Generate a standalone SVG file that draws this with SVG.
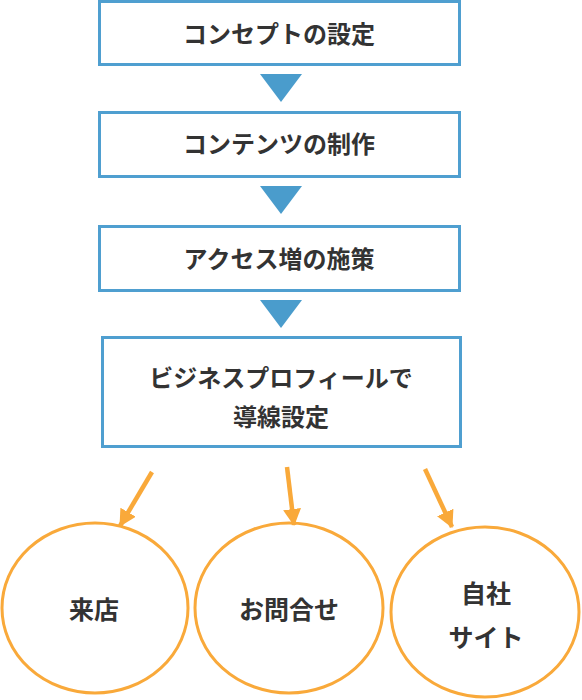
<svg xmlns="http://www.w3.org/2000/svg" width="582" height="700" viewBox="0 0 582 700">
<defs>
<style>
.box{fill:#fff;stroke:#4F9FD0;stroke-width:3}
.tri{fill:#4A9CCC}
.circ{fill:#fff;stroke:#F9A93A;stroke-width:3}
.t{font-family:"Noto Sans CJK JP","Noto Sans CJK SC",sans-serif;font-weight:bold;font-size:24px;fill:#333;text-anchor:middle}
.c{font-size:25px}
.arr{stroke:#F9A93A;stroke-width:4.5;fill:none}
</style>
<marker id="ah" markerUnits="userSpaceOnUse" markerWidth="20" markerHeight="20" refX="16" refY="9" orient="auto">
<path d="M0,0 L17,9 L0,18 Z" fill="#F9A93A"/>
</marker>
</defs>
<g id="n1"><rect class="box" x="99.5" y="1.5" width="360" height="63"/><text class="t" x="279" y="43">コンセプトの設定</text></g>
<g id="n2"><rect class="box" x="99.5" y="112.5" width="360" height="64"/><text class="t" x="279" y="153">コンテンツの制作</text></g>
<g id="n3"><rect class="box" x="99.5" y="226.5" width="360" height="64"/><text class="t" x="279" y="268">アクセス増の施策</text></g>
<g id="n4"><rect class="box" x="102.5" y="337.5" width="358" height="109"/><text class="t" x="281" y="387">ビジネスプロフィールで</text><text class="t" x="281" y="426">導線設定</text></g>
<g id="c1"><ellipse class="circ" cx="95" cy="608" rx="93" ry="85"/><text class="t c" x="94" y="619">来店</text></g>
<g id="c2"><ellipse class="circ" cx="289" cy="608" rx="94" ry="85"/><text class="t c" x="289" y="619">お問合せ</text></g>
<g id="c3"><ellipse class="circ" cx="485" cy="612" rx="94" ry="85"/><text class="t c" x="486" y="603">自社</text><text class="t c" x="486" y="647">サイト</text></g>
<g id="connectors">
<polygon class="tri" points="260,74 302,74 281,102"/>
<polygon class="tri" points="260,186 302,186 281,214"/>
<polygon class="tri" points="260,300 302,300 281,328"/>
<line class="arr" x1="152" y1="472" x2="120" y2="526" marker-end="url(#ah)"/>
<line class="arr" x1="287" y1="467" x2="294" y2="525" marker-end="url(#ah)"/>
<line class="arr" x1="425" y1="469" x2="452" y2="527" marker-end="url(#ah)"/>
</g>
</svg>
